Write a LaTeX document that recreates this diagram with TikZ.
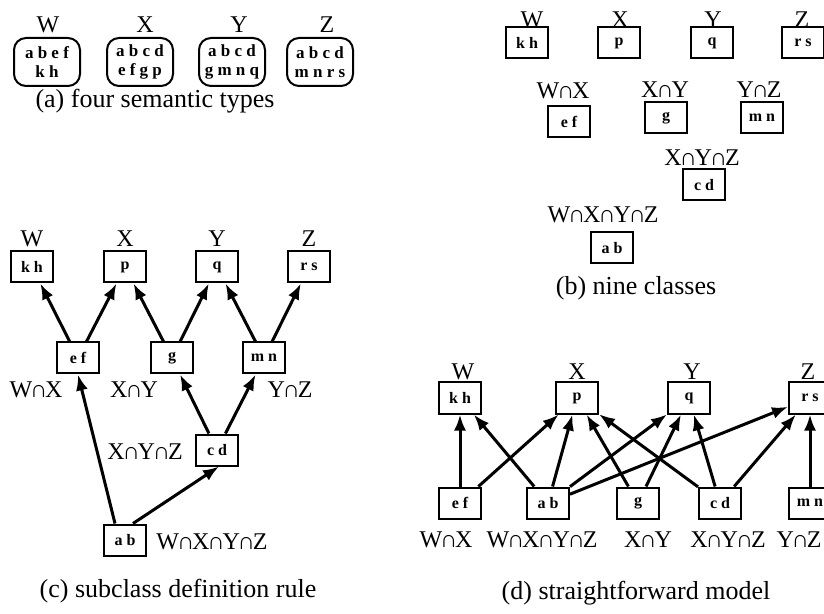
\documentclass[tikz,border=0pt]{standalone}
\usepackage{fontspec}
\setmainfont{Liberation Serif}
\usetikzlibrary{arrows.meta}

\newcommand{\isect}{\kern-0.09em∩\kern-0.09em}

\tikzset{
  cls/.style={draw, line width=1pt, minimum width=21pt, minimum height=15.5pt, inner sep=0pt,
              font=\fontsize{8}{9}\selectfont\bfseries},
  typ/.style={draw, line width=1pt, rounded corners=6pt, minimum width=33pt, minimum height=24pt,
              inner sep=0pt, align=center, font=\fontsize{8.5}{9.5}\selectfont\bfseries},
  lbl/.style={font=\fontsize{12}{13}\selectfont, inner sep=0pt},
  subcap/.style={font=\fontsize{13}{15}\selectfont, inner sep=0pt},
  isa/.style={line width=1.5pt, arrows={-Latex[length=8pt, width=6pt]}}
}

\begin{document}
\begin{tikzpicture}[x=0.5pt, y=-0.5pt]
            \clip (0,0) rectangle (824,614);

            % (a) semantic types
            \foreach \Name/\X/\LX/\Text in {W/47/48/{a b e f\\k h}, X/140/145/{a b c d\\e f g p},
                                            Y/232/239/{a b c d\\g m n q}, Z/320/327/{a b c d\\m n r s}}{
                \node[typ] (a\Name) at (\X,62) {\Text};
                \node[lbl] (a\Name-lab) at (\LX,25) {\Name};
            }
            \node[subcap] (acap) at (155,101) {(a) four semantic types};

            % (b) classes
            \foreach \Name/\X/\LX/\Text/\Label in {kh/527/532/k h/W, p/619/620/p/X, q/712/713/q/Y, rs/803/802/r s/Z}{
                \node[cls] (b\Name) at (\X,43) {\Text};
                \node[lbl] (b\Name-lab) at (\LX,20) {\Label};
            }
            \node[cls] (bef) at (569,122) {e f};
            \node[cls] (bg)  at (666,118) {g};
            \node[cls] (bmn) at (762,118) {m n};
            \node[cls] (bcd) at (704,185) {c d};
            \node[cls] (bab) at (612,248) {a b};
            \node[lbl] (bef-lab) at (563,91)  {W\isect X};
            \node[lbl] (bg-lab)  at (665,90)  {X\isect Y};
            \node[lbl] (bmn-lab) at (759,90)  {Y\isect Z};
            \node[lbl] (bcd-lab) at (702,158) {X\isect Y\isect Z};
            \node[lbl] (bab-lab) at (603,215) {W\isect X\isect Y\isect Z};
            \node[subcap] (bcap) at (636,288) {(b) nine classes};

            % (c) subclass rule
            \foreach \Name/\X/\Text/\Label in {kh/32/k h/W, p/125/p/X, q/217/q/Y, rs/309/r s/Z}{
                \node[cls] (c\Name) at (\X,267) {\Text};
                \node[lbl] (c\Name-lab) at (\X,239) {\Label};
            }
            \node[cls] (cef) at (78,358)  {e f};
            \node[cls] (cg)  at (172,358) {g};
            \node[cls] (cmn) at (264,358) {m n};
            \node[cls] (ccd) at (217,450) {c d};
            \node[cls] (cab) at (125,540) {a b};
            \node[lbl] (cef-lab) at (36,390)  {W\isect X};
            \node[lbl] (cg-lab)  at (134,390) {X\isect Y};
            \node[lbl] (cmn-lab) at (290,390) {Y\isect Z};
            \node[lbl] (ccd-lab) at (145,452) {X\isect Y\isect Z};
            \node[lbl] (cab-lab) at (212,542) {W\isect X\isect Y\isect Z};
            \node[subcap] (ccap) at (178,591) {(c) subclass definition rule};

            \foreach \From/\To in {ef/kh, ef/p, g/p, g/q, mn/q, mn/rs, cd/g, cd/mn}{
                \draw[isa] (c\From) -- (c\To);
            }
            \draw[isa] ([xshift=-5pt]cab.north) -- (cef.south);
            \draw[isa] ([xshift=4pt]cab.north) -- ([xshift=1pt]ccd.south);

            % (d) straightforward model
            \foreach \Name/\X/\LX/\Text/\Label in {kh/460/463/k h/W, p/577/577/p/X, q/689/692/q/Y, rs/810/808/r s/Z}{
                \node[cls] (d\Name) at (\X,398) {\Text};
                \node[lbl] (d\Name-lab) at (\LX,372) {\Label};
            }
            \foreach \Name/\X/\LX/\Text/\Label in {ef/460/446/e f/W\isect X, ab/548/542/a b/W\isect X\isect Y\isect Z,
                                                   g/638/648/g/X\isect Y, cd/720/728/c d/X\isect Y\isect Z, mn/810/799/m n/Y\isect Z}{
                \node[cls] (d\Name) at (\X,503) {\Text};
                \node[lbl] (d\Name-lab) at (\LX,540) {\Label};
            }
            \node[subcap] (dcap) at (636,593) {(d) straightforward model};

            \foreach \From/\To in {ef/kh, ef/p, ab/kh, ab/p, ab/q, ab/rs, g/p, g/q, cd/p, cd/q, cd/rs, mn/rs}{
                \draw[isa] (d\From) -- (d\To);
            }
        \end{tikzpicture}
\end{document}
